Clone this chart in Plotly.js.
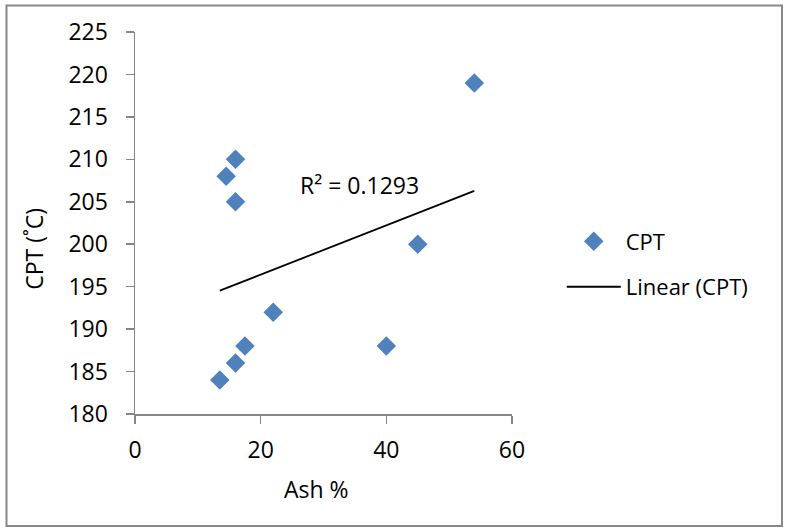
<!DOCTYPE html>
<html>
<head>
<meta charset="utf-8">
<script src="https://cdn.plot.ly/plotly-3.0.1.min.js"></script>
<style>html,body{margin:0;padding:0;background:#fff;}#chart{width:787px;height:528px;}</style>
</head>
<body>
<div id="chart"></div>
<script>
// Data
const ashPct = [13.5, 16, 17.5, 22, 40, 45, 54, 14.5, 16, 16];
const cptC   = [184, 186, 188, 192, 188, 200, 219, 208, 210, 205];
const xTicks = [0, 20, 40, 60];
const yTicks = [180, 185, 190, 195, 200, 205, 210, 215, 220, 225];
const seriesName = 'CPT';
const trendName = 'Linear (CPT)';

// Least-squares linear trendline (Excel "Linear" trendline)
const n = ashPct.length;
const mx = ashPct.reduce((a, b) => a + b, 0) / n;
const my = cptC.reduce((a, b) => a + b, 0) / n;
let sxx = 0, sxy = 0, syy = 0;
for (let i = 0; i < n; i++) {
  sxx += (ashPct[i] - mx) ** 2;
  sxy += (ashPct[i] - mx) * (cptC[i] - my);
  syy += (cptC[i] - my) ** 2;
}
const slope = sxy / sxx;
const intercept = my - slope * mx;
const r2 = (sxy * sxy) / (sxx * syy);
const xMin = Math.min(...ashPct), xMax = Math.max(...ashPct);
const trendX = [xMin, xMax];
const trendY = trendX.map(x => intercept + slope * x);

const FONT = 'Open Sans, sans-serif';
const axisGray = '#868686';

const traces = [
  {
    x: ashPct, y: cptC, type: 'scatter', mode: 'markers', name: seriesName,
    legendgroup: 'a',
    marker: {symbol: 'diamond', size: 15, color: '#4F81BD', line: {width: 0}}
  },
  {
    x: trendX, y: trendY, type: 'scatter', mode: 'lines', name: trendName,
    legendgroup: 'b',
    line: {color: '#000000', width: 1.8}
  }
];

const layout = {
  width: 787, height: 528,
  margin: {l: 135, r: 275, t: 32, b: 114, pad: 0},
  paper_bgcolor: '#ffffff', plot_bgcolor: '#ffffff',
  font: {family: FONT, size: 22, color: '#000000'},
  showlegend: true,
  legend: {
    x: 1.132, y: 0.507, xanchor: 'left', yanchor: 'top',
    font: {family: FONT, size: 22, color: '#000'},
    traceorder: 'grouped', tracegroupgap: 14, itemwidth: 54,
    bgcolor: 'rgba(0,0,0,0)'
  },
  xaxis: {
    range: [0, 60], tickvals: xTicks, ticktext: xTicks.map(String),
    showgrid: false, zeroline: false, showline: true,
    linecolor: axisGray, linewidth: 1.5,
    ticks: 'outside', ticklen: 8, tickwidth: 1.5, tickcolor: axisGray,
    tickfont: {family: FONT, size: 23, color: '#000'},
    ticklabelstandoff: 7, fixedrange: true
  },
  yaxis: {
    range: [180, 225], tickvals: yTicks, ticktext: yTicks.map(String),
    showgrid: false, zeroline: false, showline: true,
    linecolor: axisGray, linewidth: 1.5,
    ticks: 'outside', ticklen: 8, tickwidth: 1.5, tickcolor: axisGray,
    tickfont: {family: FONT, size: 23, color: '#000'},
    ticklabelstandoff: 13, fixedrange: true
  },
  annotations: [
    {
      text: 'R² = ' + r2.toFixed(4), x: 25.9, y: 207, xref: 'x', yref: 'y',
      xanchor: 'left', yanchor: 'middle', showarrow: false,
      font: {family: FONT, size: 23, color: '#000'}
    },
    {
      text: 'CPT (˚C)', x: -0.2677, y: 0.4327, xref: 'paper', yref: 'paper',
      xanchor: 'center', yanchor: 'middle', textangle: -90, showarrow: false,
      font: {family: FONT, size: 23, color: '#000'}
    },
    {
      text: 'Ash %', x: 0.4824, y: -0.1955, xref: 'paper', yref: 'paper',
      xanchor: 'center', yanchor: 'middle', showarrow: false,
      font: {family: FONT, size: 23, color: '#000'}
    }
  ],
  shapes: [
    {
      type: 'rect', xref: 'paper', yref: 'paper',
      x0: (6.5 - 135) / 377, x1: (782 - 135) / 377,
      y0: (414 - 526) / 382, y1: (414 - 5.5) / 382,
      line: {color: '#878787', width: 2}, fillcolor: 'rgba(0,0,0,0)', layer: 'below'
    }
  ]
};

Plotly.newPlot('chart', traces, layout, {displayModeBar: false, staticPlot: true});
</script>
</body>
</html>
